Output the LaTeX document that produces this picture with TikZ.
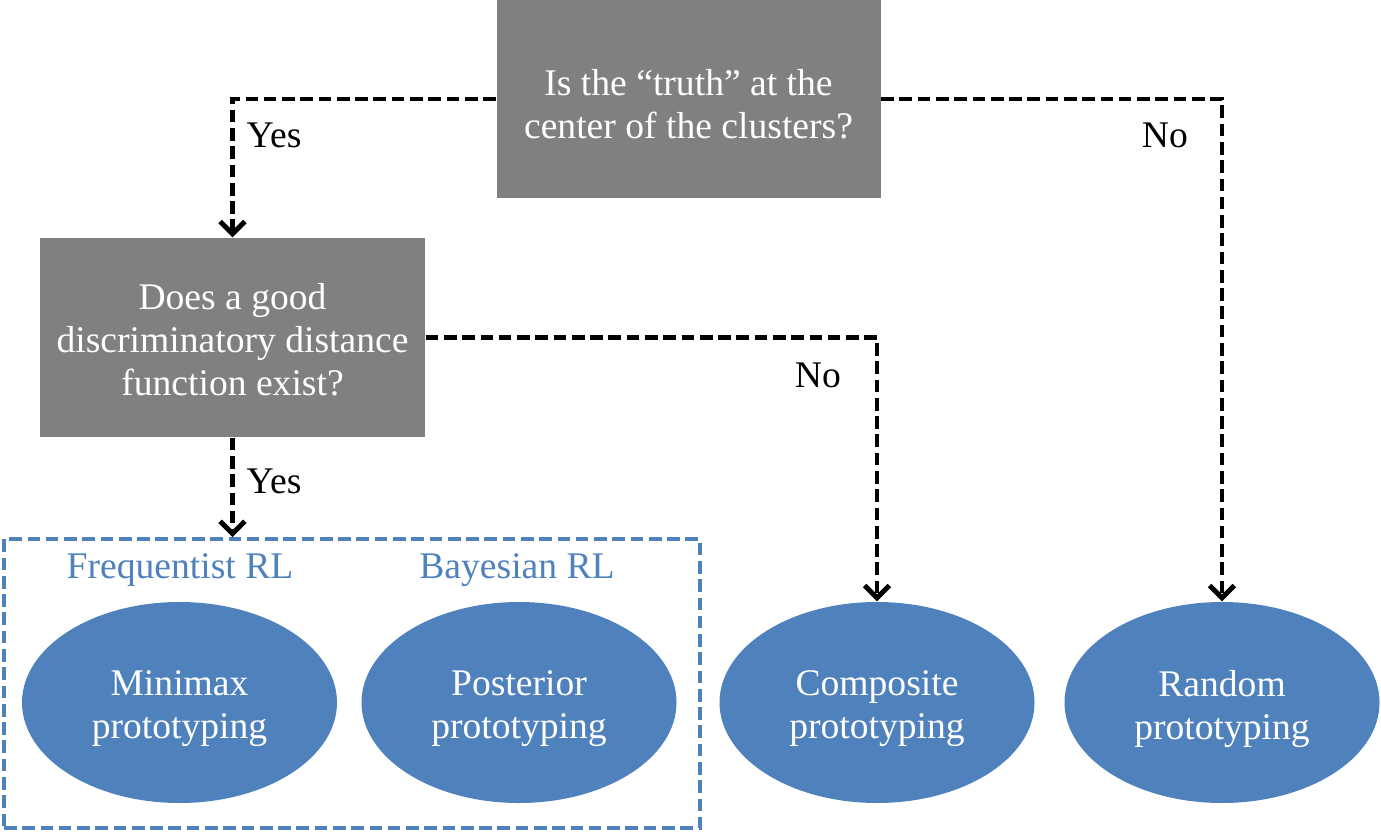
\documentclass[tikz,border=0pt]{standalone}
\usepackage{fontspec}
\setmainfont{Liberation Serif}
\usetikzlibrary{shapes.geometric,arrows.meta}
\definecolor{qgray}{HTML}{808080}
\definecolor{rlblue}{HTML}{4F81BD}

\begin{document}
\begin{tikzpicture}[font=\fontsize{10.7}{12.2}\selectfont,
	question/.style={fill=qgray, minimum width=3.84cm, minimum height=1.98cm},
	proto/.style={ellipse, fill=rlblue, minimum width=3.15cm, minimum height=2.01cm, inner sep=0pt},
	inside/.style={text=white, align=center},
	flow/.style={-{Straight Barb[length=3.5pt,width=7pt]}, line width=1.4pt, dash pattern=on 3.6pt off 1.6pt},
	]
	\useasboundingbox (0,0) rectangle (13.81,-8.32);

	\node[question] (A) at (6.885,-0.99) {};
	\node[inside] (At) at (6.885,-1.04) {Is the “truth” at the\\center of the clusters?};
	\node[question, minimum width=3.85cm, minimum height=1.99cm] (B) at (2.325,-3.375) {};
	\node[inside] (Bt) at (2.325,-3.40) {Does a good\\discriminatory distance\\function exist?};

	\node[draw=rlblue, line width=1.1pt, dash pattern=on 3.6pt off 1.6pt, minimum width=6.96cm, minimum height=2.89cm] (G) at (3.52,-6.835) {};
	\node[text=rlblue] (fr) at (1.80,-5.70) {Frequentist RL};
	\node[text=rlblue] (br) at (5.17,-5.70) {Bayesian RL};

	\node[proto] (C) at (1.795,-7.025) {};
	\node[proto] (D) at (5.19,-7.025) {};
	\node[proto] (E) at (8.77,-7.025) {};
	\node[proto] (F) at (12.22,-7.025) {};
	\node[inside] (Ct) at (1.795,-7.09) {Minimax\\prototyping};
	\node[inside] (Dt) at (5.19,-7.09) {Posterior\\prototyping};
	\node[inside] (Et) at (8.77,-7.09) {Composite\\prototyping};
	\node[inside] (Ft) at (12.22,-7.09) {Random\\prototyping};

	\draw [flow] (A.west) -| node[pos=0.63, right] (y1) {Yes} (B.north);
	\draw [flow] (A.east) -| node[pos=0.536, left=0.2cm] (n1) {No} (F.north);
	\draw [flow] (B.east) -| node[pos=0.572, left=0.22cm] (n2) {No} (E.north);
	\draw [flow] (B.south) -- node[pos=0.44, right] (y2) {Yes} (B.south |- G.north);

\end{tikzpicture}
\end{document}
